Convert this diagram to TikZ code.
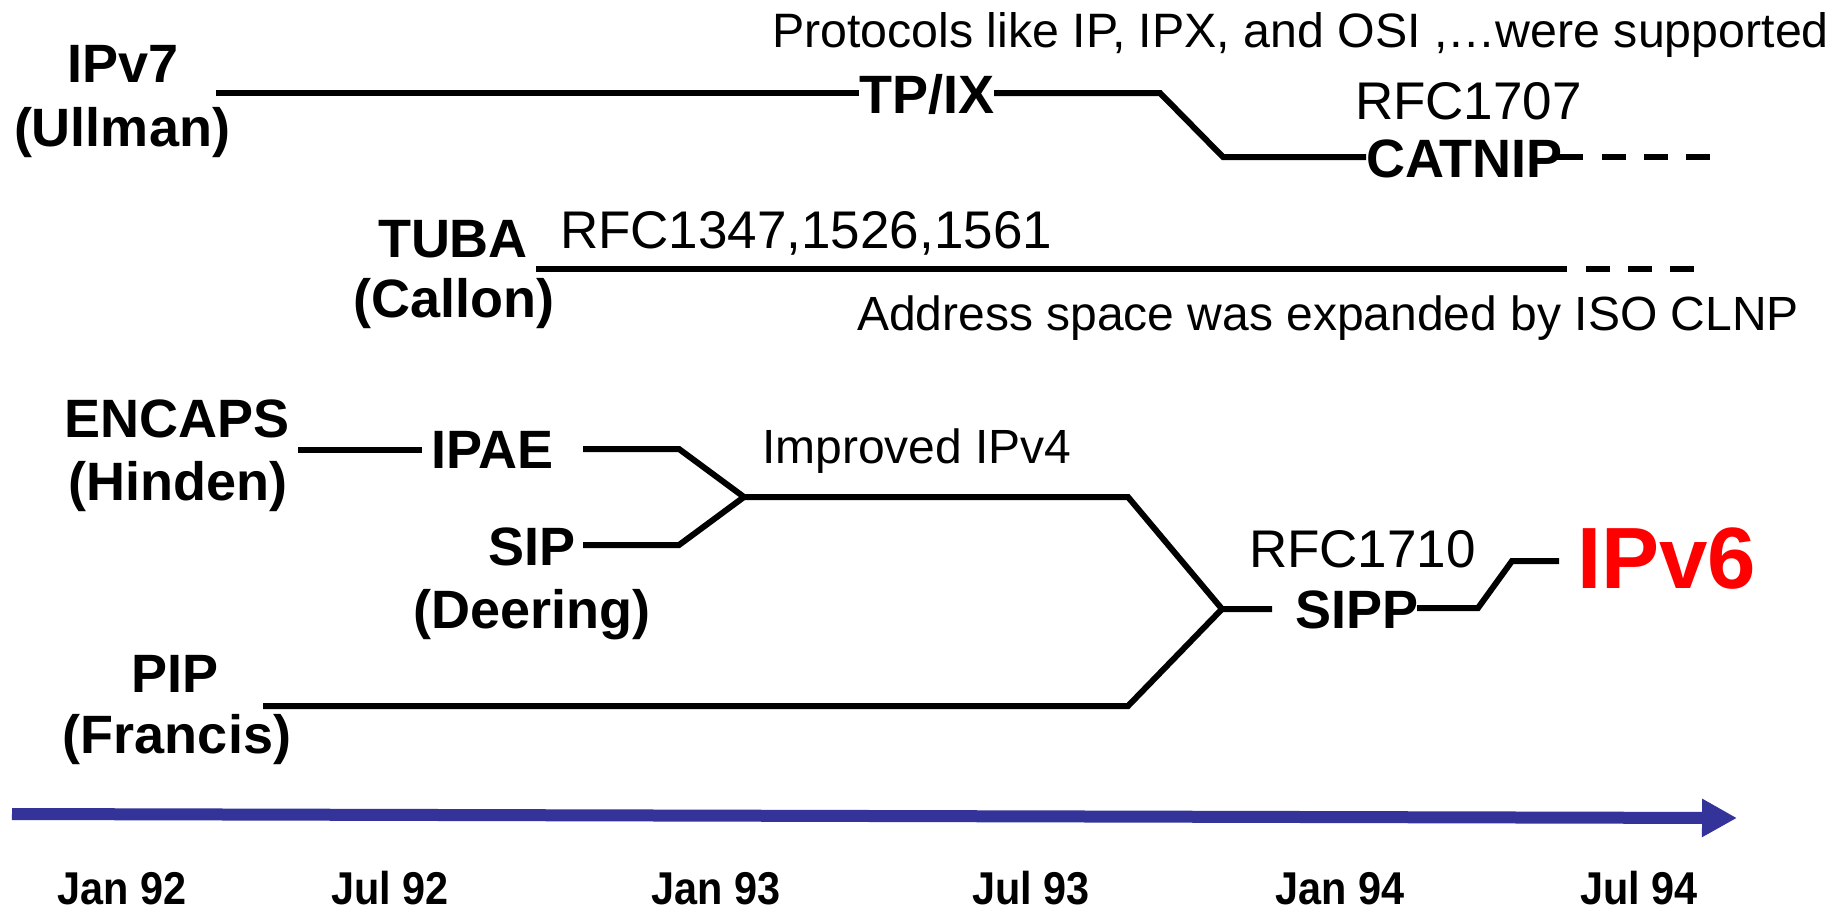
\documentclass[tikz,border=0pt]{standalone}
\usepackage{fontspec}
\setmainfont{Liberation Sans}
\newfontfamily\datefont[FakeStretch=0.9]{Liberation Sans}
\usetikzlibrary{arrows.meta}
\definecolor{axisblue}{RGB}{51,51,153}

\begin{document}
\begin{tikzpicture}[x=1pt,y=-1pt,
  every node/.style={inner sep=0pt,outer sep=0pt},
  lbl/.style={font=\fontsize{54}{60}\selectfont\bfseries,anchor=base},
  inl/.style={font=\fontsize{54}{60}\selectfont\bfseries,anchor=base west},
  note/.style={font=\fontsize{48}{56}\selectfont,anchor=base west},
  rfc/.style={font=\fontsize{53}{60}\selectfont,anchor=base west},
  datelbl/.style={font=\datefont\bfseries\fontsize{46}{54}\selectfont,anchor=base},
  track/.style={line width=6pt,black},
  tail/.style={track,dash pattern=on 24pt off 18pt}
]
\useasboundingbox (0,0) rectangle (1847,916);
\clip (0,0) rectangle (1847,916);

% ---------- proposal names (two lines each) ----------
\node[lbl] (ipv7)    at (123,82)  {IPv7};
\node[lbl] (ullman)  at (122,146) {(Ullman)};
\node[lbl] (tuba)    at (453,257) {TUBA};
\node[lbl] (callon)  at (454,317) {(Callon)};
\node[lbl] (encaps)  at (177,437) {ENCAPS};
\node[lbl] (hinden)  at (178,500) {(Hinden)};
\node[lbl] (sip)     at (532,565) {SIP};
\node[lbl] (deering) at (532,628) {(Deering)};
\node[lbl] (pip)     at (175,692) {PIP};
\node[lbl] (francis) at (177,753) {(Francis)};

% ---------- names set on the tracks ----------
\node[inl] (tpix)   at (859,113)  {TP/IX};
\node[inl] (catnip) at (1366,177) {CATNIP};
\node[inl] (ipae)   at (431,468)  {IPAE};
\node[inl] (sipp)   at (1295,628) {SIPP};
\node[anchor=base west,font=\fontsize{87}{96}\selectfont\bfseries,text=red]
  (ipv6) at (1577,588) {IPv6};

% ---------- remarks ----------
\node[note,font=\fontsize{48.3}{56}\selectfont] (protocols) at (772,47)
  {Protocols like IP, IPX, and OSI ,\ldots were supported};
\node[rfc]  (rfc1707)  at (1355,119) {RFC1707};
\node[rfc]  (rfc1347)  at (560,248)  {RFC1347,1526,1561};
\node[note] (address)  at (857,330)  {Address space was expanded by ISO CLNP};
\node[note] (improved) at (762,463)  {Improved IPv4};
\node[rfc]  (rfc1710)  at (1249,567) {RFC1710};

% ---------- track bends and ends ----------
\coordinate (a0) at (216,93);
\coordinate (a1) at (1160,93);
\coordinate (a2) at (1223,157);
\coordinate (a3) at (1556,157);
\coordinate (a4) at (1583,157);
\coordinate (a5) at (1602,157);
\coordinate (a6) at (1710,157);

\coordinate (b0) at (536,269);
\coordinate (b1) at (1567,269);
\coordinate (b2) at (1586,269);
\coordinate (b3) at (1694,269);

\coordinate (c0) at (298,450);
\coordinate (c1) at (422,450);
\coordinate (c2) at (583,449);
\coordinate (c3) at (679,449);
\coordinate (j1) at (744,497);
\coordinate (c4) at (1128,497);
\coordinate (j2) at (1222,609);
\coordinate (c5) at (1272,609);

\coordinate (s0) at (583,545);
\coordinate (s1) at (679,545);

\coordinate (p0) at (263,706);
\coordinate (p1) at (1128,706);

\coordinate (d0) at (1417,608);
\coordinate (d1) at (1478,608);
\coordinate (d2) at (1512,561);
\coordinate (d3) at (1559,561);

% ---------- tracks ----------
\draw[track] (a0) -- (tpix.west |- a0);
\draw[track] (tpix.east |- a1) -- (a1) -- (a2) -- (catnip.west |- a2);
\draw[track] (a3) -- (a4);
\draw[tail]  (a5) -- (a6);

\draw[track] (b0) -- (b1);
\draw[tail]  (b2) -- (b3);

\draw[track] (c0) -- (c1);
\draw[track] (c2) -- (c3) -- (j1) -- (c4) -- (j2) -- (c5);
\draw[track] (s0) -- (s1) -- (j1);
\draw[track] (p0) -- (p1) -- (j2);
\draw[track] (d0) -- (d1) -- (d2) -- (d3);

% ---------- time axis ----------
\coordinate (t0) at (12,814);
\coordinate (t1) at (1737,818);
\draw[axisblue,line width=12pt,-{Triangle[length=35pt,width=36pt]}] (t0) -- (t1);

\node[datelbl] (jan92) at (122,904)  {Jan 92};
\node[datelbl] (jul92) at (390,904)  {Jul 92};
\node[datelbl] (jan93) at (716,904)  {Jan 93};
\node[datelbl] (jul93) at (1031,904) {Jul 93};
\node[datelbl] (jan94) at (1340,904) {Jan 94};
\node[datelbl] (jul94) at (1639,904) {Jul 94};
\end{tikzpicture}
\end{document}
